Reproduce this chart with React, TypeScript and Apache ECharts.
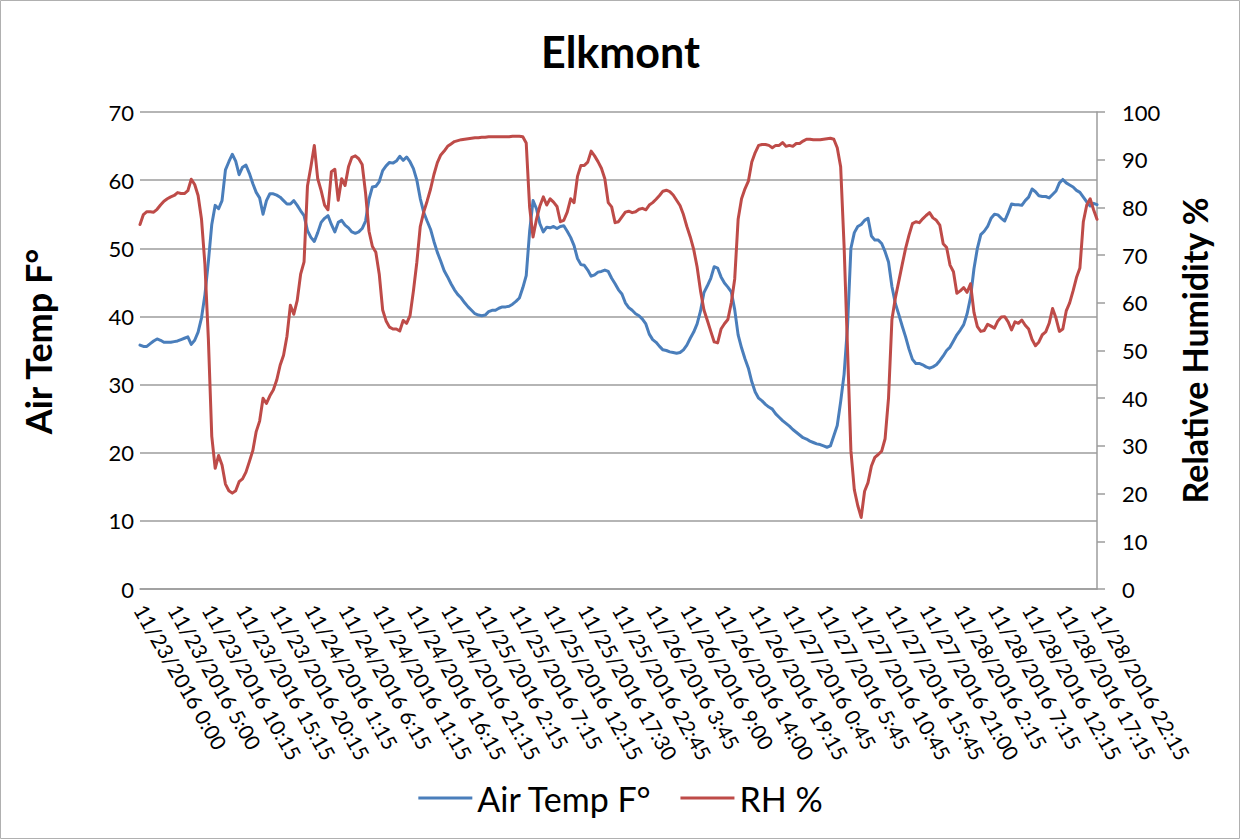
import React, { useEffect, useRef } from "react";
import * as echarts from "echarts";

const tickLabels = [
  "11/23/2016 0:00", "11/23/2016 5:00", "11/23/2016 10:15", "11/23/2016 15:15", "11/23/2016 20:15",
  "11/24/2016 1:15", "11/24/2016 6:15", "11/24/2016 11:15", "11/24/2016 16:15", "11/24/2016 21:15",
  "11/25/2016 2:15", "11/25/2016 7:15", "11/25/2016 12:15", "11/25/2016 17:30", "11/25/2016 22:45",
  "11/26/2016 3:45", "11/26/2016 9:00", "11/26/2016 14:00", "11/26/2016 19:15", "11/27/2016 0:45",
  "11/27/2016 5:45", "11/27/2016 10:45", "11/27/2016 15:45", "11/27/2016 21:00", "11/28/2016 2:15",
  "11/28/2016 7:15", "11/28/2016 12:15", "11/28/2016 17:15", "11/28/2016 22:15",
];

// readings between consecutive tick labels
const STEPS_PER_TICK = 10;

const airTemp = [
  35.8, 35.6, 35.6, 36.0, 36.4, 36.7, 36.5, 36.2, 36.2, 36.2,
  36.3, 36.4, 36.6, 36.8, 37.0, 35.9, 36.5, 37.7, 39.8, 43.2,
  48.0, 53.5, 56.3, 55.8, 57.0, 61.5, 62.7, 63.8, 62.8, 60.8,
  61.9, 62.2, 61.0, 59.5, 58.2, 57.4, 55.0, 57.0, 58.0, 58.0,
  57.8, 57.5, 57.0, 56.5, 56.5, 57.0, 56.3, 55.5, 54.8, 52.6,
  51.6, 51.0, 52.3, 53.8, 54.4, 54.8, 53.5, 52.4, 53.8, 54.1,
  53.4, 53.0, 52.4, 52.2, 52.4, 52.9, 54.0, 57.2, 59.0, 59.1,
  59.8, 61.4, 62.1, 62.6, 62.5, 62.8, 63.5, 62.9, 63.4, 62.7,
  61.7, 60.0, 57.3, 55.3, 54.0, 52.8, 51.0, 49.4, 48.1, 46.7,
  45.8, 44.8, 43.9, 43.2, 42.7, 42.0, 41.4, 40.9, 40.4, 40.2,
  40.1, 40.2, 40.7, 40.9, 40.9, 41.2, 41.4, 41.4, 41.5, 41.8,
  42.2, 42.7, 44.2, 46.0, 52.5, 57.0, 55.8, 53.6, 52.4, 53.1,
  53.0, 53.2, 52.9, 53.2, 53.3, 52.5, 51.6, 50.4, 48.5, 47.6,
  47.5, 46.8, 45.9, 46.1, 46.5, 46.6, 46.8, 46.6, 45.6, 44.8,
  43.9, 43.3, 42.0, 41.3, 40.9, 40.4, 40.1, 39.6, 38.9, 37.4,
  36.6, 36.2, 35.6, 35.1, 35.0, 34.8, 34.7, 34.6, 34.7, 35.1,
  35.8, 36.8, 37.7, 38.9, 40.8, 43.5, 44.5, 45.6, 47.3, 47.1,
  45.8, 44.9, 44.3, 43.6, 41.0, 37.3, 35.4, 33.8, 32.4, 30.4,
  28.9, 28.0, 27.6, 27.1, 26.7, 26.4, 25.7, 25.2, 24.7, 24.3,
  23.9, 23.4, 23.0, 22.6, 22.2, 22.0, 21.7, 21.5, 21.3, 21.2,
  21.0, 20.8, 21.0, 22.5, 24.0, 27.5, 31.5, 38.5, 50.0, 52.3,
  53.2, 53.5, 54.1, 54.4, 51.8, 51.2, 51.2, 50.7, 49.5, 48.0,
  44.4, 41.9, 40.3, 38.6, 37.0, 35.2, 33.7, 33.1, 33.1, 32.9,
  32.6, 32.4, 32.6, 32.9, 33.5, 34.2, 35.0, 35.5, 36.4, 37.3,
  38.0, 38.8, 40.4, 42.8, 47.0, 50.0, 52.0, 52.5, 53.2, 54.4,
  55.0, 54.9, 54.4, 54.0, 55.2, 56.5, 56.4, 56.4, 56.3, 57.0,
  57.5, 58.7, 58.3, 57.7, 57.6, 57.6, 57.4, 57.9, 58.4, 59.6,
  60.1, 59.6, 59.3, 59.0, 58.5, 58.2, 57.5, 56.8, 56.2, 56.6,
  56.4,
];

const relHumidity = [
  76.4, 78.5, 79.1, 79.1, 79.0, 79.6, 80.5, 81.3, 81.8, 82.2,
  82.5, 83.1, 82.9, 82.9, 83.5, 85.9, 84.8, 82.5, 77.5, 68.0,
  52.5, 32.0, 25.3, 28.0, 26.0, 22.0, 20.6, 20.1, 20.6, 22.5,
  23.1, 24.5, 26.7, 29.0, 33.0, 35.2, 40.0, 38.9, 40.5, 41.7,
  43.8, 46.9, 49.0, 53.0, 59.5, 57.6, 60.5, 66.0, 68.6, 84.5,
  88.5, 93.0, 86.0, 83.5, 80.5, 79.5, 87.5, 88.0, 81.5, 86.0,
  84.6, 88.5, 90.5, 90.8, 90.2, 89.0, 83.0, 75.0, 71.8, 70.6,
  66.0, 58.5, 56.2, 54.9, 54.5, 54.5, 54.1, 56.3, 55.7, 57.3,
  62.5, 68.5, 76.0, 79.0, 81.3, 83.8, 86.9, 89.4, 91.0, 91.8,
  92.8, 93.3, 93.8, 94.0, 94.2, 94.3, 94.4, 94.5, 94.6, 94.6,
  94.7, 94.7, 94.8, 94.8, 94.8, 94.8, 94.8, 94.8, 94.8, 94.9,
  94.9, 94.9, 94.8, 93.5, 80.0, 73.8, 77.5, 80.3, 82.2, 80.5,
  81.8, 81.1, 80.2, 77.0, 77.3, 79.0, 81.8, 81.0, 86.5, 88.8,
  88.8, 89.5, 91.8, 90.8, 89.6, 88.2, 86.0, 81.0, 80.1, 76.8,
  77.0, 78.0, 79.0, 79.2, 78.9, 79.1, 79.6, 79.8, 79.5, 80.5,
  81.0, 81.7, 82.5, 83.4, 83.6, 83.3, 82.6, 81.5, 80.4, 78.5,
  76.0, 73.8, 71.2, 67.5, 62.5, 58.5, 56.3, 54.0, 51.8, 51.6,
  54.5, 55.6, 56.5, 60.0, 65.0, 77.5, 81.8, 83.9, 85.5, 89.5,
  91.5, 93.0, 93.2, 93.2, 93.0, 92.5, 93.0, 93.0, 93.6, 92.8,
  93.0, 92.8, 93.4, 93.4, 93.9, 94.3, 94.3, 94.2, 94.2, 94.2,
  94.3, 94.4, 94.5, 94.3, 92.5, 88.5, 72.0, 50.5, 29.0, 20.8,
  17.5, 15.0, 20.5, 22.3, 25.8, 27.6, 28.2, 28.9, 31.5, 40.0,
  56.5, 61.0, 64.5, 68.0, 71.4, 74.2, 76.6, 77.0, 76.8, 77.6,
  78.3, 78.9, 77.8, 77.3, 76.3, 72.4, 71.6, 67.9, 66.5, 62.0,
  62.5, 63.2, 62.2, 64.0, 58.0, 55.0, 54.0, 54.2, 55.5, 55.1,
  54.7, 56.2, 57.0, 57.1, 56.0, 54.3, 56.0, 55.7, 56.4, 55.3,
  54.5, 52.3, 51.0, 51.8, 53.3, 53.9, 55.7, 58.8, 56.8, 54.0,
  54.5, 58.3, 60.0, 62.5, 65.3, 67.3, 77.0, 80.5, 81.8, 79.5,
  77.5,
];

const FONT = "Lato, 'Noto Sans', sans-serif";
const GRID_COLOR = "#9c9c9c";
const BLUE = "#4A7EBB";
const RED = "#BE4B48";

export default function App() {
  const ref = useRef<HTMLDivElement>(null);

  useEffect(() => {
    if (!ref.current) return;
    const chart = echarts.init(ref.current, null, { renderer: "svg" });
    const categories = airTemp.map((_, i) => String(i));

    chart.setOption({
      animation: false,
      backgroundColor: "#ffffff",
      textStyle: { fontFamily: FONT },
      title: {
        text: "Elkmont",
        left: "center",
        top: 25,
        textStyle: { fontFamily: FONT, fontWeight: "bold", fontSize: 43, color: "#000" },
      },
      graphic: [
        {
          type: "rect",
          silent: true,
          z: -10,
          shape: { x: 0.5, y: 0.5, width: 1239, height: 838 },
          style: { fill: "none", stroke: "#b0b0b0", lineWidth: 1 },
        },
      ],
      legend: {
        top: 776,
        left: "center",
        icon: "rect",
        itemWidth: 54,
        itemHeight: 3,
        itemGap: 28,
        textStyle: { fontFamily: FONT, fontSize: 34, color: "#000" },
        data: [
          { name: "Air Temp F°", itemStyle: { color: BLUE } },
          { name: "RH %", itemStyle: { color: RED } },
        ],
      },
      grid: { left: 140, right: 144, top: 112, bottom: 251, containLabel: false },
      xAxis: {
        type: "category",
        data: categories,
        boundaryGap: false,
        axisLine: { show: true, lineStyle: { color: GRID_COLOR, width: 1.5 } },
        axisTick: { show: false },
        splitLine: { show: false },
        axisLabel: {
          interval: STEPS_PER_TICK - 1,
          rotate: -60,
          margin: 17,
          fontFamily: FONT,
          fontSize: 21,
          color: "#000",
          formatter: (_v: string, idx: number) => tickLabels[idx / STEPS_PER_TICK] ?? "",
        },
      },
      yAxis: [
        {
          type: "value",
          min: 0,
          max: 70,
          interval: 10,
          name: "Air Temp F°",
          nameLocation: "middle",
          nameRotate: 90,
          nameGap: 84,
          nameTextStyle: { fontFamily: FONT, fontWeight: "bold", fontSize: 36, color: "#000", padding: [0, 0, 0, 18] },
          axisLine: { show: false },
          axisTick: { show: false },
          axisLabel: { margin: 6, fontFamily: FONT, fontSize: 22, color: "#000" },
          splitLine: { show: true, lineStyle: { color: GRID_COLOR, width: 1.5 } },
        },
        {
          type: "value",
          min: 0,
          max: 100,
          interval: 10,
          position: "right",
          name: "Relative Humidity %",
          nameLocation: "middle",
          nameRotate: 90,
          nameGap: 80,
          nameTextStyle: { fontFamily: FONT, fontWeight: "bold", fontSize: 34, color: "#000" },
          axisLine: { show: true, lineStyle: { color: GRID_COLOR, width: 1.5 } },
          axisTick: { show: true, inside: false, length: 8, lineStyle: { color: GRID_COLOR, width: 1.5 } },
          axisLabel: { margin: 25, fontFamily: FONT, fontSize: 22, color: "#000" },
          splitLine: { show: false },
        },
      ],
      series: [
        {
          name: "Air Temp F°",
          type: "line",
          yAxisIndex: 0,
          data: airTemp,
          symbol: "none",
          showSymbol: false,
          smooth: false,
          color: BLUE,
          lineStyle: { color: BLUE, width: 3, join: "round", cap: "round" },
        },
        {
          name: "RH %",
          type: "line",
          yAxisIndex: 1,
          data: relHumidity,
          symbol: "none",
          showSymbol: false,
          smooth: false,
          color: RED,
          lineStyle: { color: RED, width: 3, join: "round", cap: "round" },
        },
      ],
    });

    return () => chart.dispose();
  }, []);

  return (
    <div
      ref={ref}
      style={{ position: "fixed", left: 0, top: 0, width: 1241, height: 840, background: "#fff" }}
    />
  );
}
